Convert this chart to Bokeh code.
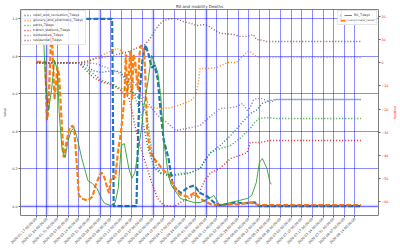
import math
from bokeh.plotting import figure
from bokeh.models import (Range1d, LinearAxis, FixedTicker, Legend, LegendItem,
                          Span, Label, NumeralTickFormatter)
from bokeh.embed import file_html
from bokeh.resources import INLINE

FONT = "DejaVu Sans"

# x tick labels (weekly, first = day 0)
week_labels = [
    "2020-01-17 00:00:00", "2020-01-24 00:00:00", "2020-01-31 00:00:00",
    "2020-02-07 00:00:00", "2020-02-14 00:00:00", "2020-02-21 00:00:00",
    "2020-02-28 00:00:00", "2020-03-06 00:00:00", "2020-03-13 00:00:00",
    "2020-03-20 00:00:00", "2020-03-27 00:00:00", "2020-04-03 00:00:00",
    "2020-04-10 00:00:00", "2020-04-17 00:00:00", "2020-04-24 00:00:00",
    "2020-05-01 00:00:00", "2020-05-08 00:00:00", "2020-05-15 00:00:00",
    "2020-05-22 00:00:00", "2020-05-29 00:00:00", "2020-06-05 00:00:00",
    "2020-06-12 00:00:00", "2020-06-19 00:00:00", "2020-06-26 00:00:00",
    "2020-07-03 00:00:00", "2020-07-10 00:00:00", "2020-07-17 00:00:00",
    "2020-07-24 00:00:00", "2020-07-31 00:00:00", "2020-08-07 00:00:00",
    "2020-08-14 00:00:00",
]
value_ticks = [0.0, 0.2, 0.4, 0.6, 0.8, 1.0]
mobility_ticks = [-60, -50, -40, -30, -20, -10, 0, 10, 20]
r0_ticks = [1, 2, 3, 4, 5, 6, 7]
highlight_days = [7, 42, 77, 112]

# ---- left axis ("Value") series, x = days since 2020-01-17 ----
r0n_day = [33, 50, 51, 66, 67, 68, 70, 72, 74, 76, 78, 80, 82, 84, 87, 90, 95, 100,
           104, 108, 113, 117, 121, 132, 136, 144, 147, 214]
r0n_val = [1.0, 1.0, 0.0, 0.0, 0.35, 0.60, 0.78, 0.86, 0.81, 0.74, 0.75, 0.68, 0.50,
           0.35, 0.26, 0.11, 0.07, 0.10, 0.11, 0.07, 0.05, 0.02, 0.005, 0.02, 0.015,
           0.02, 0.0, 0.0]

cr_day = [0, 6, 7, 8, 10, 11, 12, 14, 15, 17, 18, 20, 22, 24, 25, 27, 28, 30, 34, 37,
          39, 41, 43, 45, 47, 48, 49, 51, 52, 54, 55, 56, 58, 59, 60, 62, 63, 64, 65, 67,
          68, 69, 71, 72, 73, 75, 77, 80, 84, 87, 91, 95, 100, 104, 108, 115, 121, 128,
          134, 141, 147, 214]
cr_val = [.77, .77, .46, .51, .97, .78, .57, .74, .70, .41, .26, .35, .42, .43, .41, .19,
          .06, .04, .03, .05, .11, .15, .18, .15, .09, .07, .14, .16, .15, .30, .35, .41,
          .57, .81, .59, .83, .57, .81, .78, .62, .81, .86, .83, .67, .41, .29, .26, .23,
          .19, .17, .10, .06, .05, .07, .04, .01, .005, .01, .01, .02, .005, .005]

# ---- mobility series (right red axis) ----
ret_day = [0, 28, 34, 37, 43, 50, 55, 58, 61, 65, 69, 74, 78, 82, 87, 95, 102, 108, 111,
           115, 121, 128, 134, 141, 145, 149, 154, 158, 214]
ret_val = [0, 0, -1.2, -3.4, -4.2, -3.4, -3.8, -6.1, -9.0, -15.0, -21.9, -37.9, -45.7,
           -47.9, -48.8, -47.9, -47.5, -45.7, -42.3, -38.8, -35.8, -31.5, -27.1, -21.9,
           -20.6, -17.6, -16.3, -15.9, -15.9]

gro_day = [0, 28, 34, 39, 43, 47, 50, 53, 56, 60, 63, 66, 69, 71, 76, 82, 89, 95, 102,
           105, 107, 108, 113, 119, 126, 132, 135, 139, 141, 144, 147, 154, 214]
gro_val = [0, 0, 1.0, 2.2, 3.1, 4.4, 5.3, 6.2, 5.3, 3.1, 0.1, -5.5, -14.2, -18.5, -19.4,
           -19.8, -19.4, -18.1, -16.3, -14.2, -7.7, -2.5, -2.5, -2.1, 0.1, 0.1, 2.2, 4.8,
           4.8, 3.1, 2.2, 2.2, 2.2]

par_day = [0, 28, 35, 43, 50, 54, 61, 66, 69, 73, 76, 79, 82, 91, 100, 108, 111, 115,
           121, 128, 134, 141, 144, 147, 152, 158, 214]
par_val = [0, 0, -3.4, -7.7, -9.0, -10.7, -12.0, -14.2, -16.3, -22.8, -37.9, -44.4,
           -47.5, -48.8, -47.9, -45.7, -42.3, -38.8, -37.1, -35.8, -32.8, -28.4, -25.8,
           -24.1, -23.7, -24.1, -24.1]

tra_day = [0, 28, 37, 43, 50, 56, 61, 63, 65, 67, 71, 76, 80, 84, 91, 95, 102, 108, 111,
           115, 121, 128, 134, 139, 141, 147, 154, 214]
tra_val = [0, 0, -6.1, -8.3, -9.6, -12.0, -15.0, -20.6, -27.1, -32.8, -41.4, -51.8,
           -58.7, -61.7, -62.2, -60.4, -58.3, -55.2, -50.9, -47.5, -45.7, -41.4, -40.1,
           -38.8, -34.5, -34.5, -33.6, -33.6]

wor_day = [0, 28, 39, 48, 54, 58, 63, 67, 71, 76, 80, 86, 92, 99, 105, 108, 113, 117,
           121, 128, 132, 136, 139, 141, 143, 145, 149, 154, 158, 214]
wor_val = [0, 0, -0.3, -2.5, -4.2, -6.4, -7.7, -10.7, -15.0, -19.4, -22.8, -25.8, -29.3,
           -28.4, -27.6, -27.1, -24.1, -21.9, -19.8, -19.4, -18.9, -17.6, -20.6, -19.4,
           -16.3, -15.5, -15.5, -17.2, -15.9, -15.9]

res_day = [0, 28, 34, 39, 43, 50, 56, 63, 67, 71, 75, 78, 81, 84, 88, 92, 97, 102, 106,
           110, 113, 118, 121, 130, 134, 139, 141, 143, 145, 149, 152, 160, 214]
res_val = [0, 0, 0.5, 1.8, 2.2, 3.1, 4.0, 5.3, 6.6, 7.5, 10.5, 13.9, 16.5, 18.2, 19.0,
           19.0, 17.8, 17.0, 16.1, 16.5, 16.1, 13.9, 12.8, 12.2, 11.4, 11.4, 11.8, 12.2,
           10.1, 9.7, 9.2, 9.2, 9.2]

# ---- R0 (right green axis) ----
g_day = [0, 2, 5, 6, 8, 10, 12, 14, 15, 17, 19, 21, 23, 25, 27, 30, 34, 37, 40, 43, 45,
         49, 52, 54, 56, 58, 61, 63, 65, 67, 69, 71, 74, 76, 78, 80, 82, 84, 87, 89, 95,
         104, 108, 115, 117, 121, 128, 134, 139, 142, 145, 147, 149, 152, 154, 155]
g_val = [7.26, 6.37, 6.37, 5.01, 3.91, 4.64, 5.75, 5.38, 3.91, 2.44, 2.18, 2.80, 3.17,
         3.25, 2.88, 2.14, 1.33, 1.22, 1.04, 0.67, 0.49, 0.41, 0.52, 1.04, 2.62, 2.69,
         1.77, 1.41, 1.63, 2.36, 3.10, 4.09, 5.12, 5.93, 5.64, 5.31, 4.46, 2.80, 1.52,
         1.15, 0.67, 0.52, 0.52, 0.71, 0.78, 0.41, 0.52, 0.60, 0.67, 0.78, 1.26, 1.99,
         2.14, 1.77, 1.26, 1.19]

C_BLUE, C_ORANGE, C_GREEN = "#1f77b4", "#ff7f0e", "#2ca02c"
C_RED, C_PURPLE, C_BROWN = "#d62728", "#9467bd", "#8c564b"
TXT = "#333333"
FS = "3.3px"

X0, X1 = -10.4, 225.5
p = figure(width=400, height=250, output_backend="svg", toolbar_location=None,
           x_range=Range1d(X0, X1), y_range=Range1d(-0.05, 1.05),
           min_border_left=17, min_border_right=19, min_border_top=9,
           min_border_bottom=35)
p.extra_y_ranges = {"mob": Range1d(-66.05, 23.03), "r0": Range1d(0.044, 7.62)}
p.background_fill_color = "white"
p.outline_line_color = "#808080"
p.outline_line_width = 1

p.title.text = "R0 and mobility Deaths"
p.title.align = "center"
p.title.text_font = FONT
p.title.text_font_size = "4px"
p.title.text_font_style = "normal"
p.title.text_color = TXT
p.title.standoff = 1

week_ticks = [7 * i for i in range(len(week_labels))]
p.xaxis.ticker = FixedTicker(ticks=week_ticks)
p.xaxis.major_label_overrides = {t: lab for t, lab in zip(week_ticks, week_labels)}
p.xaxis.major_label_orientation = math.pi / 4

p.yaxis.ticker = FixedTicker(ticks=value_ticks)
p.yaxis.formatter = NumeralTickFormatter(format="0.0")
p.yaxis.axis_label = "Value"

for ax in (p.xaxis[0], p.yaxis[0]):
    ax.major_label_text_font = FONT
    ax.major_label_text_font_size = FS
    ax.major_label_text_color = TXT
    ax.axis_label_text_font = FONT
    ax.axis_label_text_font_size = FS
    ax.axis_label_text_font_style = "normal"
    ax.axis_label_text_color = TXT
    ax.axis_label_standoff = 2
    ax.major_label_standoff = 1
    ax.axis_line_color = None
    ax.major_tick_out = 2
    ax.major_tick_in = 0
    ax.major_tick_line_color = "#666666"
    ax.minor_tick_line_color = None

p.xgrid.ticker = FixedTicker(ticks=week_ticks)
p.ygrid.ticker = FixedTicker(ticks=value_ticks)
for g in (p.xgrid[0], p.ygrid[0]):
    g.grid_line_color = "blue"
    g.grid_line_alpha = 0.5
    g.grid_line_width = 0.9

for d in highlight_days:
    p.add_layout(Span(location=d, dimension="height", line_color="blue",
                      line_alpha=0.17, line_width=3))
p.add_layout(Span(location=0, dimension="width", line_color="blue",
                  line_alpha=0.17, line_width=3))

# green R0 axis (drawn on the right spine, overlapping the mobility axis)
ax_r0 = LinearAxis(y_range_name="r0", ticker=FixedTicker(ticks=r0_ticks),
                   fixed_location=X1)
ax_m = LinearAxis(y_range_name="mob", ticker=FixedTicker(ticks=mobility_ticks),
                  axis_label="mobility")
ax_m.major_label_overrides = {t: (str(t).replace("-", "\u2212")) for t in mobility_ticks}
for ax, col in ((ax_m, "red"), (ax_r0, "green")):
    ax.major_label_text_font = FONT
    ax.major_label_text_font_size = FS
    ax.major_label_text_color = col
    ax.axis_label_text_font = FONT
    ax.axis_label_text_font_size = FS
    ax.axis_label_text_font_style = "normal"
    ax.axis_label_text_color = col
    ax.axis_label_standoff = 2
    ax.major_label_standoff = 1
    ax.axis_line_color = None
    ax.major_tick_out = 2
    ax.major_tick_in = 0
    ax.major_tick_line_color = "#666666"
    ax.minor_tick_line_color = None
p.add_layout(ax_r0, "right")
p.add_layout(ax_m, "right")

p.add_layout(Label(x=X1 + 5.8, y=3.8, y_range_name="r0", text="R0", angle=math.pi / 2,
                   text_align="center", text_baseline="middle", text_color="green",
                   text_font=FONT, text_font_size=FS))

# left-axis lines
DASH = "5 2"
r_r0n = p.line(r0n_day, r0n_val, line_color=C_BLUE, line_width=2.2, line_dash=DASH)
r_cr = p.line(cr_day, cr_val, line_color=C_ORANGE, line_width=2.2, line_dash=DASH)

# mobility lines
DOT = "1 2"
mob = []
for name, xs, ys, col in (
        ("retail_and_recreation_7days", ret_day, ret_val, C_BLUE),
        ("grocery_and_pharmacy_7days", gro_day, gro_val, C_ORANGE),
        ("parks_7days", par_day, par_val, C_GREEN),
        ("transit_stations_7days", tra_day, tra_val, C_RED),
        ("workplaces_7days", wor_day, wor_val, C_PURPLE),
        ("residential_7days", res_day, res_val, C_BROWN)):
    r = p.line(xs, ys, y_range_name="mob", line_color=col, line_width=1.4, line_dash=DOT)
    mob.append((name, r))

r_g = p.line(g_day, g_val, y_range_name="r0", line_color=C_GREEN, line_width=0.9)


def style_legend(leg, gw):
    leg.label_text_font = FONT
    leg.label_text_font_size = FS
    leg.label_text_color = TXT
    leg.glyph_width = gw
    leg.glyph_height = 4
    leg.label_height = 4
    leg.label_standoff = 2
    leg.spacing = 1
    leg.padding = 2
    leg.margin = 1
    leg.border_line_color = "#cccccc"
    leg.border_line_width = 0.6
    leg.background_fill_alpha = 0.85


leg1 = Legend(items=[LegendItem(label=n, renderers=[r]) for n, r in mob],
              location="top_left")
style_legend(leg1, 7)
# the left-axis legend; its first label is hidden under the R0 legend on top
leg2 = Legend(items=[LegendItem(label=" ", renderers=[r_r0n]),
                     LegendItem(label="confirmed_ratio", renderers=[r_cr])],
              location="top_right")
style_legend(leg2, 6)
leg3 = Legend(items=[LegendItem(label="R0_7days", renderers=[r_g])],
              location="top_right")
style_legend(leg3, 8)
leg3.background_fill_alpha = 1.0
p.add_layout(leg1)
p.add_layout(leg2)
p.add_layout(leg3)

open("out.html", "w").write(file_html(p, INLINE))
